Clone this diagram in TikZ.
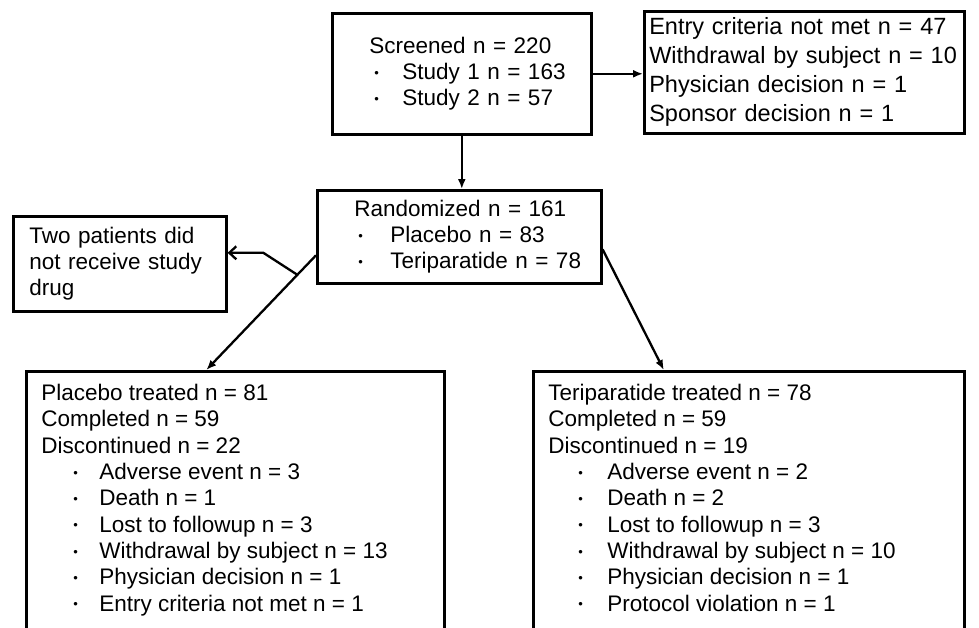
\documentclass[tikz,border=0pt]{standalone}
\usepackage{fontspec}
\setmainfont{Liberation Sans}
\usetikzlibrary{arrows.meta}

\newcommand{\dotmark}{{\fontsize{13}{13}\selectfont\raisebox{2.4pt}{\textbullet}}}
\newcommand{\bul}[3]{\mbox{\hspace*{#1}\makebox[#2][l]{\dotmark}#3}}

\begin{document}
\begin{tikzpicture}[x=1pt, y=-1pt,
  box/.style={draw, line width=2.6pt, anchor=north west, inner xsep=0pt,
    inner ysep=0pt, align=left, font=\fontsize{22.5}{26.3}\selectfont},
  arr/.style={line width=2.3pt, -{Latex[length=10pt,width=8pt]}},
  barb/.style={line width=2.3pt, -{Straight Barb[length=7pt,width=13pt]}}]
  \useasboundingbox (0,0) rectangle (979,627);
  \node [box, minimum width=259pt, minimum height=121pt, text width=185pt] (screen) at (331,12)
    {\mbox{Screened n = 220}\\ \bul{5pt}{28pt}{Study 1 n = 163}\\ \bul{5pt}{28pt}{Study 2 n = 57}};
  \node [box, font=\fontsize{23.5}{29}\selectfont, minimum width=320pt, minimum height=122pt,
    text width=310pt] (excl) at (643,10)
    {\mbox{Entry criteria not met n = 47}\\ \mbox{Withdrawal by subject n = 10}\\
     Physician decision n = 1\\ Sponsor decision n = 1};
  \node [box, minimum width=284pt, minimum height=93pt, text width=210pt] (rand) at (316,189)
    {\mbox{Randomized n = 161}\\ \bul{4pt}{32pt}{Placebo n = 83}\\ \bul{4pt}{32pt}{Teriparatide n = 78}};
  \node [box, minimum width=213pt, minimum height=95pt, text width=181pt] (two) at (12,215)
    {\mbox{Two patients did}\\ \mbox{not receive study}\\ drug};
  \node [box, minimum width=418pt, inner ysep=13pt] (plac) at (25,370)
    {\parbox[t][262pt][t]{388pt}{Placebo treated n = 81\\ Completed n = 59\\ Discontinued n = 22\\
     \bul{32pt}{26pt}{Adverse event n = 3}\\ \bul{32pt}{26pt}{Death n = 1}\\
     \bul{32pt}{26pt}{Lost to followup n = 3}\\ \bul{32pt}{26pt}{Withdrawal by subject n = 13}\\
     \bul{32pt}{26pt}{Physician decision n = 1}\\ \bul{32pt}{26pt}{Entry criteria not met n = 1}}};
  \node [box, minimum width=431pt, inner ysep=13pt] (teri) at (532,370)
    {\parbox[t][262pt][t]{401pt}{Teriparatide treated n = 78\\ Completed n = 59\\ Discontinued n = 19\\
     \bul{30pt}{29pt}{Adverse event n = 2}\\ \bul{30pt}{29pt}{Death n = 2}\\
     \bul{30pt}{29pt}{Lost to followup n = 3}\\ \bul{30pt}{29pt}{Withdrawal by subject n = 10}\\
     \bul{30pt}{29pt}{Physician decision n = 1}\\ \bul{30pt}{29pt}{Protocol violation n = 1}}};
  \draw [arr] (screen.east) -- (screen.east -| excl.west);
  \draw [arr] (screen.south) -- (screen.south |- rand.north);
  \draw [arr] ([yshift=-18.5pt]rand.west) -- coordinate[pos=0.17] (split) ([xshift=-29pt]plac.north);
  \draw [barb] (split) -- ++(-34,-22) coordinate (bend) -- (bend -| two.east);
  \draw [arr] ([yshift=-12.5pt]rand.east) -- ([xshift=-85pt]teri.north);
\end{tikzpicture}
\end{document}
